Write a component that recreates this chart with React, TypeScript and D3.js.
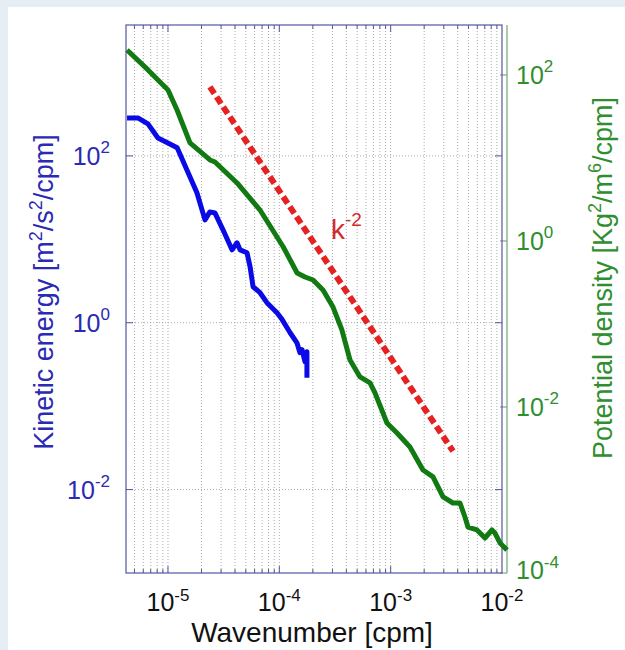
import React from "react";
import * as d3 from "d3";

// ---- data ----
const keK = [4.29e-6, 5.37e-6, 6.61e-6, 8.13e-6, 1.04e-5, 1.21e-5, 1.48e-5, 1.82e-5, 2.15e-5, 2.38e-5, 2.64e-5, 3.12e-5, 3.76e-5, 4.17e-5, 4.44e-5, 5.13e-5, 5.46e-5, 5.81e-5, 6.71e-5, 7.74e-5, 9.53e-5, 1.06e-4, 1.25e-4, 1.44e-4, 1.53e-4, 1.6e-4, 1.7e-4, 1.77e-4, 1.77e-4];
const keE = [285, 285, 242, 164, 139, 125, 67.9, 36.1, 17.1, 21.3, 20.7, 13.0, 7.48, 9.08, 7.48, 6.89, 4.69, 2.7, 2.29, 1.74, 1.32, 1.09, 0.759, 0.575, 0.438, 0.475, 0.341, 0.45, 0.219];

const pdK = [4.29e-6, 6.58e-6, 9.89e-6, 1.19e-5, 1.55e-5, 2.33e-5, 2.58e-5, 4.05e-5, 6.47e-5, 1.04e-4, 1.38e-4, 1.62e-4, 1.91e-4, 2.34e-4, 2.87e-4, 3.44e-4, 4.06e-4, 4.98e-4, 6.11e-4, 6.76e-4, 8.63e-4, 1.06e-3, 1.38e-3, 1.8e-3, 2.21e-3, 2.71e-3, 3.32e-3, 3.83e-3, 4.24e-3, 4.51e-3, 5.42e-3, 6.38e-3, 7.36e-3, 7.82e-3, 8.67e-3, 1.0e-2];
const pdP = [200, 115, 65.9, 37.8, 15.2, 9.46, 8.95, 5.0, 2.36, 0.847, 0.411, 0.368, 0.339, 0.257, 0.16, 0.0847, 0.0368, 0.023, 0.0195, 0.0148, 0.00641, 0.00486, 0.0033, 0.00174, 0.00144, 8.24e-4, 6.97e-4, 6.97e-4, 4.73e-4, 3.58e-4, 3.3e-4, 2.64e-4, 3.3e-4, 3.03e-4, 2.3e-4, 1.89e-4];

const refK = [2.38e-5, 3.63e-3];
const refCoef = 3.8e-7; // E = C * k^-2

const xTicks = [1e-5, 1e-4, 1e-3, 1e-2];
const xTickExp = ["-5", "-4", "-3", "-2"];
const yLTicks = [1e2, 1e0, 1e-2];
const yLTickExp = ["2", "0", "-2"];
const yRTicks = [1e2, 1e0, 1e-2, 1e-4];
const yRTickExp = ["2", "0", "-2", "-4"];

const FONT = "'Liberation Sans', Arial, Helvetica, sans-serif";
const BLUE_TXT = "#2a2ab4";
const GREEN_TXT = "#2f8f2f";
const AXIS_BLUE = "#5555a0";
const AXIS_GREEN = "#78b078";

export default function App() {
  const L = 126, R = 502, RG = 507, T = 25, B = 573;
  const kMin = Math.pow(10, -5.377);
  const x = d3.scaleLog().domain([kMin, 1e-2]).range([L, R]);
  const xG = d3.scaleLog().domain([kMin, 1e-2]).range([L, RG]);
  const yL = d3.scaleLog().domain([1e-3, Math.pow(10, 3.569)]).range([B, T]);
  const yR = d3.scaleLog().domain([1e-4, Math.pow(10, 2.602)]).range([B, T]);

  const grid: number[] = [];
  for (let e = -6; e <= -3; e++) {
    for (let m = 1; m <= 9; m++) {
      const v = m * Math.pow(10, e);
      if (v > kMin * 1.01 && v < 1e-2 * 0.999) grid.push(v);
    }
  }
  const isMajor = (v: number) => Math.abs(Math.log10(v) - Math.round(Math.log10(v))) < 1e-6;

  const keLine = d3.line<number>().x((_, i) => x(keK[i])).y((d) => yL(d)).curve(d3.curveLinear);
  const pdLine = d3.line<number>().x((_, i) => xG(pdK[i])).y((d) => yR(d)).curve(d3.curveLinear);
  const refLine = d3.line<number>().x((k) => x(k)).y((k) => yL(refCoef * Math.pow(k, -2)));

  const TS = 25;
  const sup = (exp: string, raise: number) => (
    <>
      <tspan>10</tspan>
      <tspan dy={-TS * raise} fontSize={TS * 0.68}>{exp}</tspan>
    </>
  );

  return (
    <svg width={625} height={650} style={{ position: "absolute", left: 0, top: 0, display: "block" }} fontFamily={FONT}>
      <rect x={0} y={0} width={625} height={650} fill="#e5edf5" />
      <rect x={8} y={7} width={617} height={643} fill="#ffffff" />

      {/* gridlines */}
      {grid.map((v, i) => (
        <line key={"g" + i} x1={x(v)} x2={x(v)} y1={T} y2={B} stroke="#a0a0a0" strokeWidth={0.9} strokeDasharray="1,2" />
      ))}
      {yLTicks.map((v, i) => (
        <line key={"h" + i} x1={L} x2={R} y1={yL(v)} y2={yL(v)} stroke="#a0a0a0" strokeWidth={0.9} strokeDasharray="1,2" />
      ))}

      {/* x ticks bottom & top */}
      {grid.map((v, i) => {
        const len = isMajor(v) ? 7 : 4;
        return (
          <g key={"t" + i}>
            <line x1={x(v)} x2={x(v)} y1={B} y2={B - len} stroke={AXIS_BLUE} strokeWidth={1} />
            <line x1={x(v)} x2={x(v)} y1={T} y2={T + len} stroke={AXIS_BLUE} strokeWidth={1} />
          </g>
        );
      })}
      {/* left ticks + box right ticks */}
      {yLTicks.map((v, i) => (
        <g key={"yl" + i}>
          <line x1={L} x2={L + 7} y1={yL(v)} y2={yL(v)} stroke={AXIS_BLUE} strokeWidth={1} />
          <line x1={R} x2={R - 7} y1={yL(v)} y2={yL(v)} stroke={AXIS_BLUE} strokeWidth={1} />
        </g>
      ))}
      {/* right green ticks */}
      {yRTicks.map((v, i) => (
        <line key={"yr" + i} x1={RG} x2={RG - 7} y1={yR(v)} y2={yR(v)} stroke="#6a8a9a" strokeWidth={1} />
      ))}

      {/* box */}
      <rect x={L} y={T} width={R - L} height={B - T} fill="none" stroke={AXIS_BLUE} strokeWidth={1.2} />
      <line x1={RG} x2={RG} y1={T} y2={B} stroke={AXIS_GREEN} strokeWidth={1.3} />

      {/* curves */}
      <path d={pdLine(pdP) || ""} fill="none" stroke="#127a12" strokeWidth={5} strokeLinejoin="round" />
      <path d={keLine(keE) || ""} fill="none" stroke="#0a0ae6" strokeWidth={5} strokeLinejoin="round" />
      <path d={refLine(refK) || ""} fill="none" stroke="#e52222" strokeWidth={6} strokeDasharray="8,4" />

      {/* k^-2 label */}
      <text x={331} y={239} fill="#d42a2a" fontSize={28}>
        <tspan>k</tspan>
        <tspan dy={-13} fontSize={19}>-2</tspan>
      </text>

      {/* x tick labels */}
      {xTicks.map((v, i) => (
        <text key={"xl" + i} x={x(v)} y={611} textAnchor="middle" fontSize={TS} fill="#111">
          {sup(xTickExp[i], 0.4)}
        </text>
      ))}
      {/* left tick labels */}
      {yLTicks.map((v, i) => (
        <text key={"yll" + i} x={110} y={yL(v) + 9} textAnchor="end" fontSize={TS} fill={BLUE_TXT}>
          {sup(yLTickExp[i], 0.46)}
        </text>
      ))}
      {/* right tick labels */}
      {yRTicks.map((v, i) => (
        <text key={"yrl" + i} x={516} y={yR(v) + (i === yRTicks.length - 1 ? 6 : 9)} textAnchor="start" fontSize={TS} fill={GREEN_TXT}>
          {sup(yRTickExp[i], 0.46)}
        </text>
      ))}

      {/* axis titles */}
      <text x={312} y={642} textAnchor="middle" fontSize={28} fill="#111">Wavenumber [cpm]</text>
      <text transform="translate(53,292) rotate(-90)" textAnchor="middle" fontSize={27} fill={BLUE_TXT}>
        <tspan>Kinetic energy [m</tspan>
        <tspan dy={-11} fontSize={18}>2</tspan>
        <tspan dy={11}>/s</tspan>
        <tspan dy={-11} fontSize={18}>2</tspan>
        <tspan dy={11}>/cpm]</tspan>
      </text>
      <text transform="translate(612,278) rotate(-90)" textAnchor="middle" fontSize={27} fill={GREEN_TXT}>
        <tspan>Potential density [Kg</tspan>
        <tspan dy={-11} fontSize={18}>2</tspan>
        <tspan dy={11}>/m</tspan>
        <tspan dy={-11} fontSize={18}>6</tspan>
        <tspan dy={11}>/cpm]</tspan>
      </text>
    </svg>
  );
}
